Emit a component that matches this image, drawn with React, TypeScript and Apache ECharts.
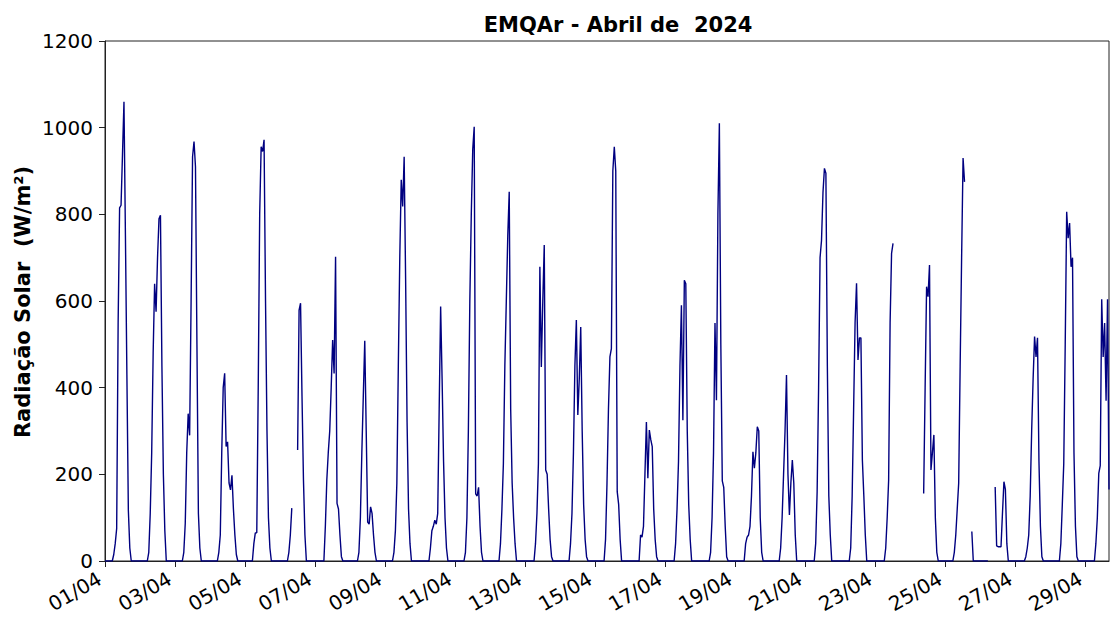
import React, { useEffect, useRef } from "react";
import * as echarts from "echarts";

const N = null;
// Hourly solar radiation (W/m²), hours 00..23 for each day of April 2024
const day01 = [0, 0, 0, 0, 0, 0, 15, 40, 75, 550, 815, 821, 940, 1060, 750, 430, 117, 30, 0, 0, 0, 0, 0, 0];
const day02 = [0, 0, 0, 0, 0, 0, 20, 110, 250, 480, 640, 575, 700, 790, 798, 450, 200, 70, 0, 0, 0, 0, 0, 0];
const day03 = [0, 0, 0, 0, 0, 0, 20, 87, 250, 340, 290, 600, 933, 968, 910, 500, 110, 30, 0, 0, 0, 0, 0, 0];
const day04 = [0, 0, 0, 0, 0, 0, 20, 60, 250, 400, 433, 264, 275, 180, 164, 198, 120, 60, 15, 0, 0, 0, 0, 0];
const day05 = [0, 0, 0, 0, 0, 0, 40, 65, 65, 400, 800, 956, 945, 972, 600, 300, 100, 30, 0, 0, 0, 0, 0, 0];
const day06 = [0, 0, 0, 0, 0, 0, 20, 60, 122, N, N, N, 256, 579, 595, 380, 187, 60, 0, 0, 0, 0, 0, 0];
const day07 = [0, 0, 0, 0, 0, 0, 0, 80, 187, 250, 300, 400, 510, 433, 702, 133, 120, 60, 10, 0, 0, 0, 0, 0];
const day08 = [0, 0, 0, 0, 0, 0, 20, 100, 250, 380, 508, 300, 90, 85, 125, 110, 60, 20, 0, 0, 0, 0, 0, 0];
const day09 = [0, 0, 0, 0, 0, 0, 20, 70, 180, 450, 700, 880, 818, 933, 650, 320, 120, 40, 0, 0, 0, 0, 0, 0];
const day10 = [0, 0, 0, 0, 0, 0, 0, 30, 70, 80, 94, 85, 110, 350, 587, 420, 230, 100, 30, 0, 0, 0, 0, 0];
const day11 = [0, 0, 0, 0, 0, 0, 0, 20, 100, 300, 600, 800, 950, 1002, 155, 150, 170, 80, 20, 0, 0, 0, 0, 0];
const day12 = [0, 0, 0, 0, 0, 0, 0, 40, 120, 225, 450, 600, 750, 852, 350, 180, 100, 40, 0, 0, 0, 0, 0, 0];
const day13 = [0, 0, 0, 0, 0, 0, 0, 40, 110, 225, 679, 448, 600, 729, 210, 200, 120, 50, 10, 0, 0, 0, 0, 0];
const day14 = [0, 0, 0, 0, 0, 0, 0, 40, 110, 250, 450, 556, 337, 420, 540, 300, 130, 50, 10, 0, 0, 0, 0, 0];
const day15 = [0, 0, 0, 0, 0, 0, 0, 50, 180, 350, 471, 490, 900, 956, 900, 160, 130, 50, 0, 0, 0, 0, 0, 0];
const day16 = [0, 0, 0, 0, 0, 0, 0, 60, 55, 80, 200, 321, 191, 302, 280, 264, 120, 50, 10, 0, 0, 0, 0, 0];
const day17 = [0, 0, 0, 0, 0, 0, 0, 40, 120, 230, 450, 590, 325, 648, 640, 300, 130, 50, 0, 0, 0, 0, 0, 0];
const day18 = [0, 0, 0, 0, 0, 0, 0, 20, 100, 250, 549, 371, 800, 1010, 500, 185, 170, 80, 10, 0, 0, 0, 0, 0];
const day19 = [0, 0, 0, 0, 0, 0, 0, 40, 55, 60, 80, 150, 252, 214, 250, 310, 300, 100, 20, 0, 0, 0, 0, 0];
const day20 = [0, 0, 0, 0, 0, 0, 0, 30, 100, 200, 300, 429, 200, 106, 180, 233, 180, 60, 0, 0, 0, 0, 0, 0];
const day21 = [0, 0, 0, 0, 0, 0, 0, 40, 160, 400, 700, 740, 850, 906, 895, 450, 150, 60, 0, 0, 0, 0, 0, 0];
const day22 = [0, 0, 0, 0, 0, 0, 0, 30, 150, 350, 550, 641, 464, 515, 515, 233, 150, 60, 0, 0, 0, 0, 0, 0];
const day23 = [0, 0, 0, 0, 0, 0, 0, 30, 100, 187, 550, 710, 733, N, N, N, N, N, N, N, N, N, N, N];
const day24 = [N, N, N, N, N, N, N, N, N, 156, 400, 633, 610, 683, 210, 250, 291, 100, 20, 0, 0, 0, 0, 0];
const day25 = [0, 0, 0, 0, 0, 0, 20, 60, 120, 180, 450, 700, 930, 875, N, N, N, N, 68, 0, 0, 0, 0, 0];
const day26 = [0, 0, 0, 0, 0, 0, N, N, N, N, 171, 35, 33, 33, 33, 110, 183, 165, 40, 0, 0, 0, 0, 0];
const day27 = [0, 0, 0, 0, 0, 0, 0, 10, 30, 60, 150, 300, 420, 518, 471, 515, 230, 80, 10, 0, 0, 0, 0, 0];
const day28 = [0, 0, 0, 0, 0, 0, 0, 40, 130, 225, 500, 806, 745, 780, 679, 700, 250, 80, 10, 0, 0, 0, 0, 0];
const day29 = [0, 0, 0, 0, 0, 0, 0, 40, 100, 202, 220, 604, 471, 549, 370, 604, 165];

const days = [
  day01, day02, day03, day04, day05, day06, day07, day08, day09, day10,
  day11, day12, day13, day14, day15, day16, day17, day18, day19, day20,
  day21, day22, day23, day24, day25, day26, day27, day28, day29,
];

const xTickHours = [0, 48, 96, 144, 192, 240, 288, 336, 384, 432, 480, 528, 576, 624, 672];
const yTicks = [0, 200, 400, 600, 800, 1000, 1200];

const FONT = "'DejaVu Sans', sans-serif";

export default function App() {
  const ref = useRef<HTMLDivElement>(null);
  useEffect(() => {
    if (!ref.current) return;
    const chart = echarts.init(ref.current, null, { renderer: "svg" });
    const data: [number, number | null][] = [];
    days.forEach((d, di) => {
      d.forEach((v, h) => data.push([di * 24 + h, v]));
    });
    const xMax = (days.length - 1) * 24 + (days[days.length - 1].length - 1);
    chart.setOption({
      animation: false,
      backgroundColor: "#ffffff",
      title: {
        text: "EMQAr - Abril de  2024",
        left: 613,
        top: 9,
        textAlign: "center",
        textStyle: { fontFamily: FONT, fontWeight: "bold", fontSize: 21, color: "#000" },
      },
      grid: {
        left: 105,
        top: 41,
        width: 1004,
        height: 520,
        show: true,
        borderColor: "#222",
        borderWidth: 1,
        backgroundColor: "transparent",
      },
      xAxis: {
        type: "value",
        min: 0,
        max: xMax,
        interval: 48,
        splitLine: { show: false },
        axisLine: { show: true, onZero: false, lineStyle: { color: "#222", width: 1 } },
        axisTick: { show: true, length: 6, lineStyle: { color: "#222" }, customValues: xTickHours },
        axisLabel: {
          customValues: xTickHours,
          rotate: 30,
          margin: 13,
          padding: [0, 6, 0, 0],
          fontFamily: FONT,
          fontSize: 20,
          color: "#000",
          formatter: (v: number) => {
            const d = Math.round(v / 24) + 1;
            return (d < 10 ? "0" + d : "" + d) + "/04";
          },
        },
      },
      yAxis: {
        type: "value",
        min: 0,
        max: 1200,
        interval: 200,
        splitLine: { show: false },
        axisLine: { show: true, lineStyle: { color: "#222", width: 1 } },
        axisTick: { show: true, length: 6, lineStyle: { color: "#222" } },
        axisLabel: {
          customValues: yTicks,
          margin: 12,
          fontFamily: FONT,
          fontSize: 20,
          color: "#000",
          formatter: (v: number) => String(v),
        },
      },
      graphic: [
        {
          type: "text",
          x: 23,
          y: 302,
          rotation: Math.PI / 2,
          style: {
            text: "Radiação Solar  (W/m²)",
            fontFamily: FONT,
            fontWeight: "bold",
            fontSize: 21,
            fill: "#000",
            textAlign: "center",
            textVerticalAlign: "middle",
          },
        },
      ],
      series: [
        {
          type: "line",
          data,
          showSymbol: false,
          connectNulls: false,
          lineStyle: { color: "#000080", width: 1.4 },
          itemStyle: { color: "#000080" },
        },
      ],
    });
    return () => chart.dispose();
  }, []);
  return (
    <div
      ref={ref}
      style={{ position: "fixed", left: 0, top: 0, width: 1110, height: 617, background: "#fff" }}
    />
  );
}
